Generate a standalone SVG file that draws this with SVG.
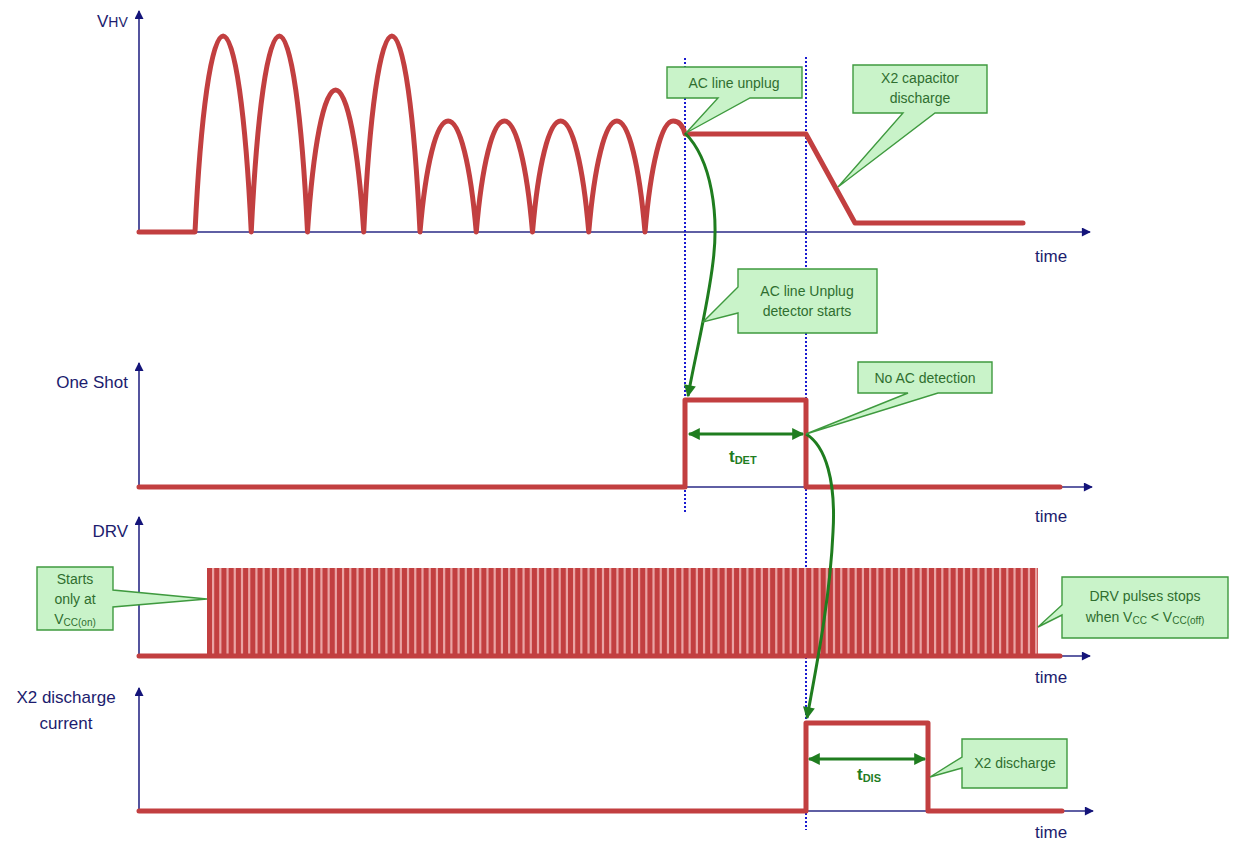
<svg xmlns="http://www.w3.org/2000/svg" width="1235" height="846" viewBox="0 0 1235 846">
<defs>
<style>
.ax{stroke:#2a2a86;stroke-width:1.6;fill:none}
.lbl{font-family:"Liberation Sans",Arial,sans-serif;font-size:17px;fill:#1c1c6e}
.sig{stroke:#c23f40;stroke-width:5;fill:none;stroke-linejoin:round;stroke-linecap:round}
.dot{stroke:#1a1ad0;stroke-width:2;stroke-dasharray:2 2;fill:none}
.co{fill:#c9f3c9;stroke:#3f9a3f;stroke-width:1.4;stroke-linejoin:miter}
.ct{font-family:"Liberation Sans",Arial,sans-serif;font-size:14px;fill:#2f6e2f;text-anchor:middle}
.gr{stroke:#1f7d1f;stroke-width:3;fill:none}
.tl{font-family:"Liberation Sans",Arial,sans-serif;font-weight:bold;font-size:17px;fill:#1f7d1f}
</style>
<marker id="ah" viewBox="0 0 10 10" refX="9" refY="5" markerWidth="10" markerHeight="9" markerUnits="userSpaceOnUse" orient="auto">
<path d="M0,0 L10,5 L0,10 Z" fill="#14147a"/>
</marker>
<marker id="ga" viewBox="0 0 10 10" refX="9" refY="5" markerWidth="13" markerHeight="12" markerUnits="userSpaceOnUse" orient="auto-start-reverse">
<path d="M0,0 L10,5 L0,10 Z" fill="#1f7d1f"/>
</marker>
</defs>
<rect width="1235" height="846" fill="#ffffff"/>

<g id="axes">
<line class="ax" x1="139" y1="232" x2="139" y2="11" marker-end="url(#ah)"/>
<line class="ax" x1="139" y1="232" x2="1090" y2="232" marker-end="url(#ah)"/>
<line class="ax" x1="139" y1="487" x2="139" y2="363" marker-end="url(#ah)"/>
<line class="ax" x1="139" y1="487" x2="1092" y2="487" marker-end="url(#ah)"/>
<line class="ax" x1="139" y1="656" x2="139" y2="517" marker-end="url(#ah)"/>
<line class="ax" x1="139" y1="656" x2="1090" y2="656" marker-end="url(#ah)"/>
<line class="ax" x1="139" y1="811" x2="139" y2="688" marker-end="url(#ah)"/>
<line class="ax" x1="139" y1="811" x2="1093" y2="811" marker-end="url(#ah)"/>
</g>

<g id="axis-labels">
<text class="lbl" x="97" y="27" font-size="19">V<tspan font-size="14">HV</tspan></text>
<text class="lbl" x="1035" y="262">time</text>
<text class="lbl" x="128" y="388" text-anchor="end">One Shot</text>
<text class="lbl" x="1035" y="522">time</text>
<text class="lbl" x="128" y="537" text-anchor="end">DRV</text>
<text class="lbl" x="1035" y="683">time</text>
<text class="lbl" x="66" y="703" text-anchor="middle">X2 discharge</text>
<text class="lbl" x="66" y="729" text-anchor="middle">current</text>
<text class="lbl" x="1035" y="838">time</text>
</g>

<g id="markers-dotted">
<line class="dot" x1="685" y1="58" x2="685" y2="512"/>
<line class="dot" x1="806" y1="57" x2="806" y2="830"/>
</g>

<g id="vhv-signal">
<path class="sig" d="M139,232 L195,232
C200.63,114.4 211.3,36 223.125,36 C234.94,36 245.63,114.4 251.25,232
C256.88,114.4 267.55,36 279.375,36 C291.19,36 301.88,114.4 307.5,232
C313.13,146.8 323.8,90 335.625,90 C347.44,90 358.13,146.8 363.75,232
C369.38,114.4 380.05,36 391.875,36 C403.69,36 414.38,114.4 420,232
C425.63,165.4 436.3,121 448.125,121 C459.94,121 470.63,165.4 476.25,232
C481.88,165.4 492.55,121 504.375,121 C516.19,121 526.88,165.4 532.5,232
C538.13,165.4 548.8,121 560.625,121 C572.44,121 583.13,165.4 588.75,232
C594.38,165.4 605.05,121 616.875,121 C628.69,121 639.38,165.4 645,232
C650.63,165.4 661.3,121 673.125,121 C679,121 683,126 685,134
L806,134 L855,223 L1023,223"/>
</g>

<g id="oneshot-signal">
<path class="sig" d="M139,487 L685,487 L685,400 L806,400 L806,487 L1060,487"/>
</g>

<g id="drv-signal">
<rect x="207" y="568" width="831" height="88" fill="#eaa4a4"/>
<line x1="207" y1="612" x2="1038" y2="612" stroke="#c23f40" stroke-width="88" stroke-dasharray="5 2.22"/>
<path class="sig" d="M139,656 L1060,656"/>
</g>

<g id="x2-signal">
<path class="sig" d="M139,811 L806,811 L806,723 L928,723 L928,811 L1062,811"/>
</g>

<g id="connectors">
<path class="gr" d="M685,133 C712,160 719,215 713,262 C708,305 696,352 688,396" marker-end="url(#ga)"/>
<path class="gr" d="M806,434 C826,446 836,482 833,532 C830,600 816,668 807,718" marker-end="url(#ga)"/>
<line class="gr" x1="689" y1="434" x2="803" y2="434" marker-start="url(#ga)" marker-end="url(#ga)"/>
<line class="gr" x1="809" y1="759" x2="925" y2="759" marker-start="url(#ga)" marker-end="url(#ga)"/>
</g>

<g id="tdet">
<text class="tl" x="729" y="462">t<tspan font-size="11" dy="2">DET</tspan></text>
</g>
<g id="tdis">
<text class="tl" x="857" y="780">t<tspan font-size="11" dy="2">DIS</tspan></text>
</g>

<g id="callout-ac-unplug">
<path class="co" d="M667,67 H802 V98 H750 L686,133 L718,98 H667 Z"/>
<text class="ct" x="734" y="88">AC line unplug</text>
</g>

<g id="callout-x2-cap">
<path class="co" d="M853,65 H987 V113 H935 L838,187 L903,113 H853 Z"/>
<text class="ct" x="920" y="83">X2 capacitor</text>
<text class="ct" x="920" y="103">discharge</text>
</g>

<g id="callout-detector">
<path class="co" d="M738,269 H877 V333 H738 V313 L703,322 L738,287 Z"/>
<text class="ct" x="807" y="296">AC line Unplug</text>
<text class="ct" x="807" y="316">detector starts</text>
</g>

<g id="callout-no-ac">
<path class="co" d="M858,362 H992 V393 H938 L806,434 L908,393 H858 Z"/>
<text class="ct" x="925" y="383">No AC detection</text>
</g>

<g id="callout-starts">
<path class="co" d="M37,567 H113 V590 L207,599 L113,607 V630 H37 Z"/>
<text class="ct" x="75" y="584">Starts</text>
<text class="ct" x="75" y="604">only at</text>
<text class="ct" x="75" y="624">V<tspan font-size="10" dy="2">CC(on)</tspan></text>
</g>

<g id="callout-drv-stops">
<path class="co" d="M1062,577 H1228 V638 H1062 V615 L1038,627 L1062,605 Z"/>
<text class="ct" x="1145" y="601">DRV pulses stops</text>
<text class="ct" x="1145" y="622">when V<tspan font-size="10" dy="2">CC</tspan><tspan dy="-2"> &lt; V</tspan><tspan font-size="10" dy="2">CC(off)</tspan></text>
</g>

<g id="callout-x2-discharge">
<path class="co" d="M962,739 H1067 V788 H962 V768 L930,777 L962,757 Z"/>
<text class="ct" x="1015" y="768">X2 discharge</text>
</g>
</svg>
